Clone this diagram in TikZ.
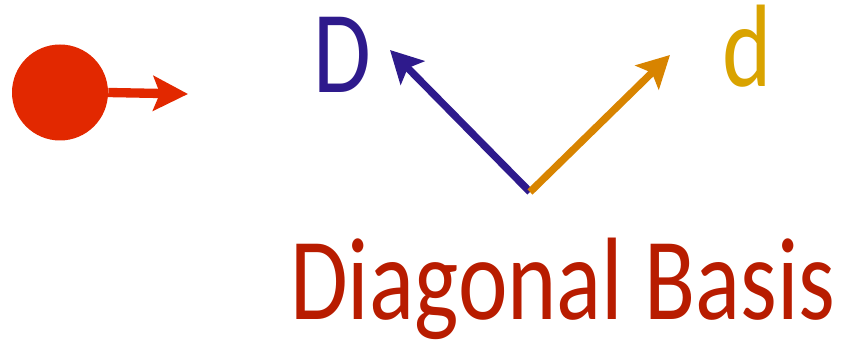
\documentclass[tikz,border=0pt]{standalone}
\usepackage{fontspec}
\setmainfont{Carlito}[FakeStretch=0.8]
\usetikzlibrary{arrows.meta}
\definecolor{photonred}{HTML}{E22800}
\definecolor{bigdblue}{HTML}{2E1A8C}
\definecolor{smalldgold}{HTML}{D9A300}
\definecolor{smalldorange}{HTML}{D88400}
\definecolor{titlered}{HTML}{B81C00}
\begin{document}
\begin{tikzpicture}[x=0.75pt,y=-0.75pt,line join=miter,
	basis/.style={line width=5.5pt,-{Stealth[length=24pt,width=25pt,inset=5pt]}},
	lbl/.style={inner sep=0pt,anchor=base west,text height=50pt,text depth=0pt,font=\fontsize{88}{100}\selectfont}]
	\useasboundingbox (0,0) rectangle (845,341);
	\node[circle,fill=photonred,minimum size=72pt,inner sep=0pt] (particle) at (60,92.5) {};
	\coordinate (redtip) at (188,94);
	\draw[line width=7pt,color=photonred,-{Stealth[length=26pt,width=26pt,inset=5pt]}] (particle.east) -- (redtip);
	\coordinate (origin) at (530,192);
	\coordinate (Dtip) at (390,50);
	\coordinate (dtip) at (670,55);
	\draw[basis,color=bigdblue] (origin) -- (Dtip);
	\draw[basis,color=smalldorange] (origin) -- (dtip);
	\node[lbl,color=bigdblue] (Dlabel) at (313,93) {D};
	\node[lbl,color=smalldgold] (dlabel) at (722,87) {d};
	\node[lbl,color=titlered] (title) at (290,320) {Diagonal Basis};
\end{tikzpicture}
\end{document}
